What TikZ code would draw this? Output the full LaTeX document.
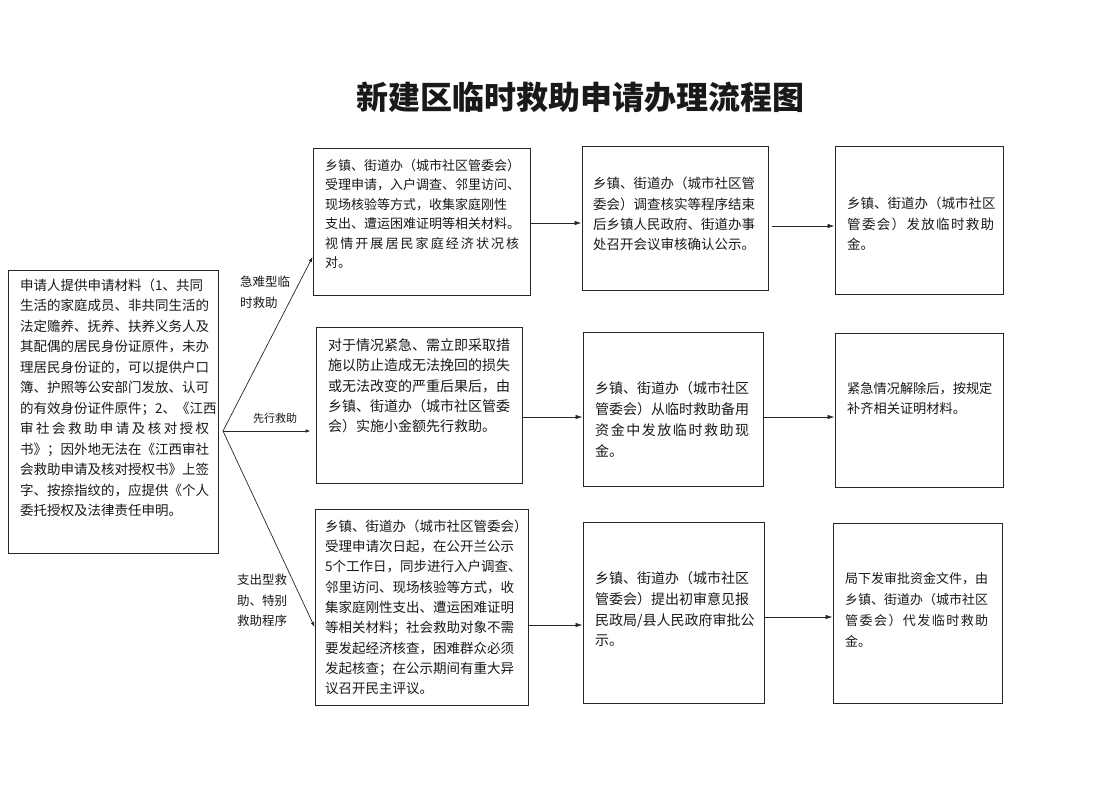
\documentclass[tikz,border=0pt]{standalone}
\usepackage{fontspec}
\setmainfont{Noto Sans CJK SC}
\usepackage{tikz}
\usetikzlibrary{arrows.meta,positioning}

\ExplSyntaxOn
\NewDocumentCommand\spreadline{mm}{
  \hbox~to~#1pt{\tl_map_inline:nn{#2}{##1\hfil}\unskip}
}
\ExplSyntaxOff

\begin{document}
\begin{tikzpicture}[
    x=1pt, y=-1pt,
    font=\fontsize{13.5}{20.3}\selectfont,
    box/.style={rectangle, draw=black!85, line width=0.9pt, inner sep=0pt},
    txt/.style={anchor=north west, align=left, inner sep=0pt, text=black!90},
    lab/.style={anchor=north west, align=left, inner sep=0pt, text=black!90, font=\fontsize{12.5}{20.5}\selectfont},
    arrow/.style={-{Latex[length=7pt,width=4.5pt]}, line width=0.8pt, draw=black!85},
    fan/.style={-{Latex[length=5pt,width=3.5pt]}, line width=0.7pt, draw=black!85}
]
\useasboundingbox[fill=white] (0,0) rectangle (1107,789);

\node[font=\fontsize{32}{32}\selectfont\bfseries, text=black!90] (title) at (580,97) {新建区临时救助申请办理流程图};

\node[box, minimum width=210, minimum height=283] (apply) at (113,411.5) {};
\node[box, minimum width=217, minimum height=147] (a1) at (421.5,221.5) {};
\node[box, minimum width=186, minimum height=144] (a2) at (675,218) {};
\node[box, minimum width=168, minimum height=148] (a3) at (919,220) {};
\node[box, minimum width=206, minimum height=156] (b1) at (419,405) {};
\node[box, minimum width=180, minimum height=154] (b2) at (673,409) {};
\node[box, minimum width=168, minimum height=154] (b3) at (919,410) {};
\node[box, minimum width=213, minimum height=196] (c1) at (421.5,607) {};
\node[box, minimum width=181, minimum height=181] (c2) at (673.5,612.5) {};
\node[box, minimum width=169, minimum height=180] (c3) at (917.5,613) {};

\node[txt, font=\fontsize{13.5}{20.5}\selectfont] (applyt) at (20,278.5) {申请人提供申请材料（1、共同\\生活的家庭成员、非共同生活的\\法定赡养、抚养、扶养义务人及\\其配偶的居民身份证原件，未办\\理居民身份证的，可以提供户口\\簿、护照等公安部门发放、认可\\的有效身份证件原件；2、《江西\\\spreadline{189}{审社会救助申请及核对授权}\\书》；因外地无法在《江西审社\\会救助申请及核对授权书》上签\\字、按捺指纹的，应提供《个人\\委托授权及法律责任申明。};

\node[txt, font=\fontsize{13}{19.5}\selectfont] (a1t) at (325,159) {乡镇、街道办（城市社区管委会）\\受理申请，入户调查、邻里访问、\\现场核验等方式，收集家庭刚性\\支出、遭运困难证明等相关材料。\\\spreadline{194}{视情开展居民家庭经济状况核}\\对。};
\node[txt] (a2t) at (593,177) {乡镇、街道办（城市社区管\\委会）调查核实等程序结束\\后乡镇人民政府、街道办事\\处召开会议审核确认公示。};
\node[txt] (a3t) at (847,197) {乡镇、街道办（城市社区\\\spreadline{147}{管委会）发放临时救助}\\金。};

\node[txt, font=\fontsize{14}{20.3}\selectfont] (b1t) at (328,338.5) {对于情况紧急、需立即采取措\\施以防止造成无法挽回的损失\\或无法改变的严重后果后，由\\乡镇、街道办（城市社区管委\\会）实施小金额先行救助。};
\node[txt, font=\fontsize{14}{21}\selectfont] (b2t) at (595,381.5) {乡镇、街道办（城市社区\\管委会）从临时救助备用\\\spreadline{154}{资金中发放临时救助现}\\金。};
\node[txt, font=\fontsize{13.2}{20}\selectfont] (b3t) at (847,382) {紧急情况解除后，按规定\\补齐相关证明材料。};

\node[txt] (c1t) at (325,519.5) {乡镇、街道办（城市社区管委会）\\受理申请次日起，在公开兰公示\\5个工作日，同步进行入户调查、\\邻里访问、现场核验等方式，收\\集家庭刚性支出、遭运困难证明\\等相关材料；社会救助对象不需\\要发起经济核查，困难群众必须\\发起核查；在公示期间有重大异\\议召开民主评议。};
\node[txt, font=\fontsize{14}{20.7}\selectfont] (c2t) at (595,571.5) {乡镇、街道办（城市社区\\管委会）提出初审意见报\\民政局/县人民政府审批公\\示。};
\node[txt, font=\fontsize{13}{21}\selectfont] (c3t) at (845,572) {局下发审批资金文件，由\\乡镇、街道办（城市社区\\\spreadline{143}{管委会）代发临时救助}\\金。};

\node[lab] (lab1) at (240,276) {急难型临\\时救助};
\node[lab, anchor=center, font=\fontsize{11}{13}\selectfont] (lab2) at (275,418) {先行救助};
\node[lab] (lab3) at (237,574) {支出型救\\助、特别\\救助程序};

\coordinate (fork) at (223,431);
\draw[fan] (fork) -- ([yshift=-35.5pt]a1.west);
\draw[fan, shorten >=5pt] (fork) -- (fork -| b1.west);
\draw[fan] (fork) -- ([yshift=-20pt]c1.west);

\draw[arrow] ([yshift=-1.5pt]a1.east) -- ([yshift=-1.5pt]a1.east -| a2.west);
\draw[arrow, shorten <=4pt] ([yshift=-8pt]a2.east) -- ([yshift=-8pt]a2.east -| a3.west);
\draw[arrow] ([yshift=-12pt]b1.east) -- ([yshift=-12pt]b1.east -| b2.west);
\draw[arrow] ([yshift=-8pt]b2.east) -- ([yshift=-8pt]b2.east -| b3.west);
\draw[arrow] ([yshift=-18pt]c1.east) -- ([yshift=-18pt]c1.east -| c2.west);
\draw[arrow] ([yshift=-4.5pt]c2.east) -- ([yshift=-4.5pt]c2.east -| c3.west);
\end{tikzpicture}
\end{document}
